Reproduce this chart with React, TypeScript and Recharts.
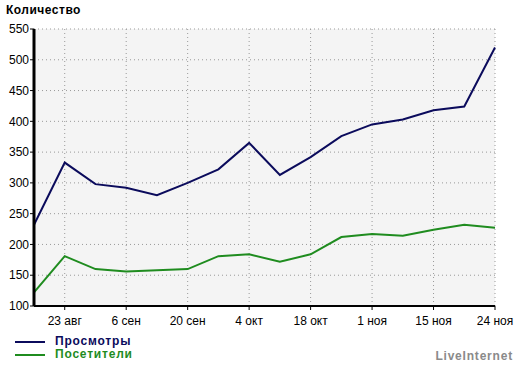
import { LineChart, Line, XAxis, YAxis, CartesianGrid } from "recharts";

const dates = [
  "16 авг", "23 авг", "30 авг", "6 сен", "13 сен", "20 сен", "27 сен", "4 окт",
  "11 окт", "18 окт", "25 окт", "1 ноя", "8 ноя", "15 ноя", "22 ноя", "24 ноя",
];
const views = [232, 333, 298, 292, 280, 300, 322, 365, 313, 342, 376, 395, 403, 418, 424, 520];
const visitors = [122, 181, 160, 156, 158, 160, 181, 184, 172, 184, 212, 217, 214, 224, 232, 227];
const xTicks = ["23 авг", "6 сен", "20 сен", "4 окт", "18 окт", "1 ноя", "15 ноя", "24 ноя"];
const yTicks = [100, 150, 200, 250, 300, 350, 400, 450, 500, 550];

const VIEWS_COLOR = "#0b0b5c";
const VISITORS_COLOR = "#1f8c1f";
const font = "'Liberation Sans', Arial, sans-serif";

const data = dates.map((d, i) => ({ date: d, views: views[i], visitors: visitors[i] }));

export default function App() {
  return (
    <div style={{ position: "absolute", left: 0, top: 0, width: 520, height: 366, background: "#fff", fontFamily: font }}>
      <div style={{ position: "absolute", left: 6, top: 3, fontSize: 12, fontWeight: "bold", letterSpacing: 0.5, color: "#000" }}>
        Количество
      </div>
      <LineChart width={520} height={366} data={data} margin={{ top: 29, right: 25, left: 0, bottom: 0 }}>
        <CartesianGrid fill="#f4f4f4" stroke="#999" strokeDasharray="1 3" />
        <XAxis
          dataKey="date"
          ticks={xTicks}
          height={60}
          tickSize={4}
          tickMargin={6}
          axisLine={{ stroke: "#000", strokeWidth: 2 }}
          tickLine={{ stroke: "#000" }}
          tick={{ fill: "#000", fontSize: 12, fontFamily: font }}
        />
        <YAxis
          domain={[100, 550]}
          ticks={yTicks}
          width={34}
          tickSize={4}
          tickMargin={1}
          axisLine={{ stroke: "#000", strokeWidth: 3 }}
          tickLine={{ stroke: "#000" }}
          tick={{ fill: "#000", fontSize: 12, fontFamily: font }}
        />
        <Line dataKey="views" stroke={VIEWS_COLOR} strokeWidth={2} dot={false} isAnimationActive={false} />
        <Line dataKey="visitors" stroke={VISITORS_COLOR} strokeWidth={2} dot={false} isAnimationActive={false} />
      </LineChart>
      <div style={{ position: "absolute", left: 15, top: 335, fontSize: 12, fontWeight: "bold", lineHeight: "13px", letterSpacing: 0.8 }}>
        <div style={{ display: "flex", alignItems: "center", color: VIEWS_COLOR }}>
          <span style={{ display: "inline-block", width: 30, height: 2, background: VIEWS_COLOR, marginRight: 10 }} />
          Просмотры
        </div>
        <div style={{ display: "flex", alignItems: "center", color: VISITORS_COLOR }}>
          <span style={{ display: "inline-block", width: 30, height: 2, background: VISITORS_COLOR, marginRight: 10 }} />
          Посетители
        </div>
      </div>
      <div style={{ position: "absolute", right: 7, top: 349, fontSize: 12, fontWeight: "bold", letterSpacing: 0.8, color: "#8a8a8a" }}>
        LiveInternet
      </div>
    </div>
  );
}
